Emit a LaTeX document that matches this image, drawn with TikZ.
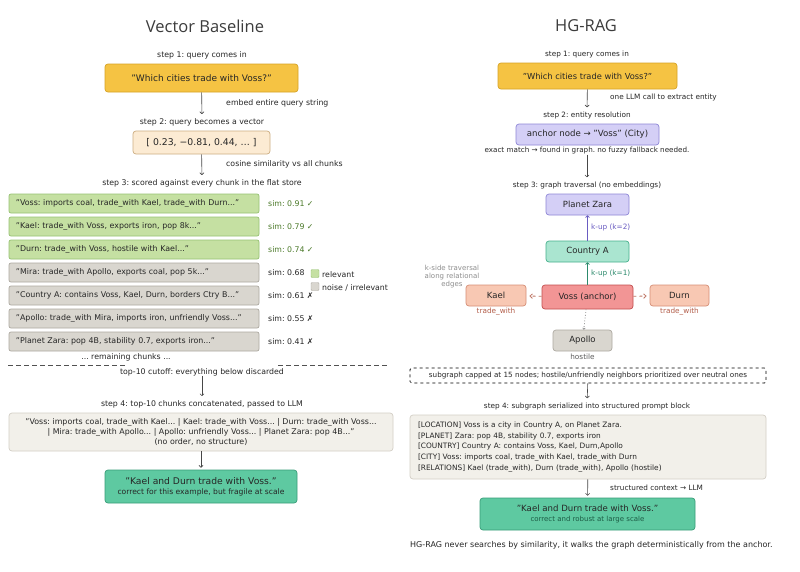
\documentclass[tikz,border=0pt]{standalone}
\usepackage{fontspec}
\setmainfont{DejaVu Sans}
\newfontfamily\headfont{Open Sans}
\usetikzlibrary{arrows.meta}
\frenchspacing
\definecolor{ink}{HTML}{262626}
\definecolor{queryfill}{HTML}{F5C343}
\definecolor{querydraw}{HTML}{D6A326}
\definecolor{vecfill}{HTML}{FCEBD3}
\definecolor{vecdraw}{HTML}{CDAE82}
\definecolor{hitfill}{HTML}{C5E0A2}
\definecolor{hitdraw}{HTML}{97C173}
\definecolor{hittext}{HTML}{4C7A2A}
\definecolor{missfill}{HTML}{D9D6CF}
\definecolor{missdraw}{HTML}{ADA9A1}
\definecolor{blockfill}{HTML}{F2F0EA}
\definecolor{blockdraw}{HTML}{D3CFC6}
\definecolor{answerfill}{HTML}{5EC9A1}
\definecolor{answerdraw}{HTML}{389C78}
\definecolor{answertext}{HTML}{1D5C45}
\definecolor{lilacfill}{HTML}{D4CFF6}
\definecolor{lilacdraw}{HTML}{8E86D6}
\definecolor{lilactext}{HTML}{6A5CC2}
\definecolor{mintfill}{HTML}{AAE5D0}
\definecolor{mintdraw}{HTML}{46B08C}
\definecolor{minttext}{HTML}{2C8A6C}
\definecolor{vossfill}{HTML}{F29595}
\definecolor{vossdraw}{HTML}{C24E4E}
\definecolor{peachfill}{HTML}{F8C8B3}
\definecolor{peachdraw}{HTML}{D68E76}
\definecolor{relcolor}{HTML}{B35E4A}
\definecolor{muted}{HTML}{8E8E8E}
\tikzset{
    every node/.style={text=ink, inner sep=0pt},
    heading/.style={font=\headfont\fontsize{16.5}{20}\selectfont, text=ink!90},
    steplabel/.style={font=\fontsize{7.3}{9}\selectfont},
    sidenote/.style={font=\fontsize{7.3}{9}\selectfont, anchor=west},
    leftstep/.style={font=\fontsize{7.8}{9}\selectfont},
    leftnote/.style={font=\fontsize{7.8}{9}\selectfont, anchor=west},
    box/.style={draw, rounded corners=3pt, line width=0.7pt,
        font=\fontsize{7.3}{9}\selectfont},
    chunk/.style={box, rounded corners=2pt, minimum width=250, minimum height=19,
        text width=236, align=left, font=\fontsize{7.9}{9}\selectfont},
    hit/.style={chunk, fill=hitfill, draw=hitdraw},
    miss/.style={chunk, fill=missfill, draw=missdraw},
    graphnode/.style={box, minimum height=21, font=\fontsize{8.5}{9}\selectfont},
    flow/.style={-{To[length=2.5pt,width=4.5pt]}, line width=0.6pt, draw=ink!85}
}

\begin{document}
\begin{tikzpicture}[x=1pt, y=-1pt]
  \useasboundingbox (0,0) rectangle (800,571);
  \fill[white] (0,0) rectangle (800,571);

  % vector baseline
  \node (titleL) [heading] at (205,26) {Vector Baseline};
  \node (stepL1) [leftstep] at (202,55) {step 1: query comes in};
  \node (queryL) [box, fill=queryfill, draw=querydraw, minimum width=193,
    minimum height=28, font=\fontsize{9}{10}\selectfont] at (201.5,78)
    {"Which cities trade with Voss?"};
  \node (embedL) [leftnote] at (226,103) {embed entire query string};
  \node (stepL2) [leftstep] at (202,122) {step 2: query becomes a vector};
  \node (vecL) [box, fill=vecfill, draw=vecdraw, minimum width=137,
    minimum height=23, font=\fontsize{9.3}{10}\selectfont] at (201.5,142.5)
    {[ 0.23, −0.81, 0.44, … ]};
  \node (cosL) [leftnote] at (226,164) {cosine similarity vs all chunks};
  \node (stepL3) [leftstep] at (202,183)
    {step 3: scored against every chunk in the flat store};

  \node (c1) [hit] at (134,203.5)
    {"Voss: imports coal, trade\_with Kael, trade\_with Durn..."};
  \node (c2) [hit] at (134,226.5) {"Kael: trade\_with Voss, exports iron, pop 8k..."};
  \node (c3) [hit] at (134,249.5) {"Durn: trade\_with Voss, hostile with Kael..."};
  \node (c4) [miss] at (134,272.5)
    {"Mira: trade\_with Apollo, exports coal, pop 5k..."};
  \node (c5) [miss] at (134,295.5)
    {"Country A: contains Voss, Kael, Durn, borders Ctry B..."};
  \node (c6) [miss] at (134,318.5)
    {"Apollo: trade\_with Mira, imports iron, unfriendly Voss..."};
  \node (c7) [miss] at (134,341.5)
    {"Planet Zara: pop 4B, stability 0.7, exports iron..."};

  \node (s1) [leftnote, text=hittext] at (268,203.5) {sim: 0.91 ✓};
  \node (s2) [leftnote, text=hittext] at (268,226.5) {sim: 0.79 ✓};
  \node (s3) [leftnote, text=hittext] at (268,249.5) {sim: 0.74 ✓};
  \node (s4) [leftnote] at (268,272.5) {sim: 0.68};
  \node (s5) [leftnote] at (268,295.5) {sim: 0.61 ✗};
  \node (s6) [leftnote] at (268,318.5) {sim: 0.55 ✗};
  \node (s7) [leftnote] at (268,341.5) {sim: 0.41 ✗};

  \node (keyhit) [draw=hitdraw, fill=hitfill, rounded corners=1pt,
    minimum size=8] at (315,273.5) {};
  \node (keymiss) [draw=missdraw, fill=missfill, rounded corners=1pt,
    minimum size=8] at (315,286.5) {};
  \node (keyhitL) [leftnote] at (322,274.5) {relevant};
  \node (keymissL) [leftnote] at (322,287.5) {noise / irrelevant};

  \node (restL) [leftstep] at (126,357) {... remaining chunks ...};
  \coordinate (cutA) at (8,365);
  \coordinate (cutB) at (125,365);
  \coordinate (cutC) at (278,365);
  \coordinate (cutD) at (387,365);
  \draw [dash pattern=on 5pt off 3pt, line width=0.7pt, draw=ink!80] (cutA) -- (cutB);
  \draw [dash pattern=on 5pt off 3pt, line width=0.7pt, draw=ink!80] (cutC) -- (cutD);
  \node (cutL) [leftstep] at (202,372) {top-10 cutoff: everything below discarded};
  \node (stepL4) [leftstep] at (202,404)
    {step 4: top-10 chunks concatenated, passed to LLM};
  \node (concatL) [box, fill=blockfill, draw=blockdraw, minimum width=384,
    minimum height=38, align=center, font=\fontsize{7.9}{10.3}\selectfont]
    at (201,432)
    {"Voss: imports coal, trade\_with Kael... | Kael: trade\_with Voss... | Durn: trade\_with Voss...\\
     | Mira: trade\_with Apollo... | Apollo: unfriendly Voss... | Planet Zara: pop 4B..."\\
     (no order, no structure)};
  \node (answerL) [box, fill=answerfill, draw=answerdraw, minimum width=192,
    minimum height=33, align=center] at (201,486.5)
    {{\fontsize{9.2}{10}\selectfont "Kael and Durn trade with Voss."}\\[1pt]
     {\fontsize{7.6}{8}\selectfont correct for this example, but fragile at scale}};

  \draw [flow] (queryL) -- (stepL2) [shorten >=4pt];
  \draw [flow] (vecL) -- (stepL3) [shorten >=4pt];
  \draw [flow] (cutL) -- (stepL4) [shorten >=4pt];
  \draw [flow] (concatL) -- (answerL) [shorten >=2pt];

  % hg-rag
  \node (titleR) [heading] at (586,26) {HG-RAG};
  \node (stepR1) [steplabel] at (587,54) {step 1: query comes in};
  \node (queryR) [box, fill=queryfill, draw=querydraw, minimum width=179,
    minimum height=26, font=\fontsize{8.3}{10}\selectfont] at (587.5,76)
    {"Which cities trade with Voss?"};
  \node (extractR) [sidenote] at (610,97) {one LLM call to extract entity};
  \node (stepR2) [steplabel] at (587,115) {step 2: entity resolution};
  \node (anchorR) [box, fill=lilacfill, draw=lilacdraw, minimum width=143,
    minimum height=21, font=\fontsize{8.6}{10}\selectfont] at (587.5,134.5)
    {anchor node → "Voss" (City)};
  \node (matchR) [steplabel, font=\fontsize{7.2}{9}\selectfont] at (587,151)
    {exact match → found in graph. no fuzzy fallback needed.};
  \node (stepR3) [steplabel] at (587,185) {step 3: graph traversal (no embeddings)};

  \node (zara) [graphnode, fill=lilacfill, draw=lilacdraw, minimum width=83]
    at (587.5,204.5) {Planet Zara};
  \node (country) [graphnode, fill=mintfill, draw=mintdraw, minimum width=83]
    at (587.5,251.5) {Country A};
  \node (voss) [graphnode, fill=vossfill, draw=vossdraw, minimum width=91,
    minimum height=24] at (587.5,297) {Voss (anchor)};
  \node (kael) [graphnode, fill=peachfill, draw=peachdraw, minimum width=60]
    at (496,295.5) {Kael};
  \node (durn) [graphnode, fill=peachfill, draw=peachdraw, minimum width=59]
    at (679.5,295.5) {Durn};
  \node (apollo) [graphnode, fill=missfill, draw=missdraw, minimum width=59]
    at (582.5,340.5) {Apollo};

  \node (kup2) [sidenote, text=lilactext] at (591,227) {k-up (k=2)};
  \node (kup1) [sidenote, text=minttext] at (591,273) {k-up (k=1)};
  \node (kaelrel) [steplabel, text=relcolor] at (496,311.5) {trade\_with};
  \node (durnrel) [steplabel, text=relcolor] at (679.5,311.5) {trade\_with};
  \node (apollorel) [steplabel, text=ink!75] at (582.5,356.5) {hostile};
  \node (sidenoteR) [align=center, text=muted, font=\fontsize{7}{8}\selectfont]
    at (452,277) {k-side traversal\\along relational\\edges};

  \draw [-{To[length=2.5pt,width=4.5pt]}, line width=0.8pt, draw=minttext]
    (voss) -- (country);
  \draw [-{To[length=2.5pt,width=4.5pt]}, line width=0.8pt, draw=lilactext]
    (country) -- (zara);
  \draw [-{Straight Barb[length=2.5pt,width=4.5pt]}, dashed, line width=0.8pt,
    draw=relcolor!85] (voss) -- (kael) [shorten >=3pt];
  \draw [-{Straight Barb[length=2.5pt,width=4.5pt]}, dashed, line width=0.8pt,
    draw=relcolor!85] (voss) -- (durn) [shorten >=3pt];
  \draw [-{To[length=2pt,width=3pt]}, dotted, line width=0.8pt, draw=muted]
    (voss) -- (apollo);

  \node (capR) [draw, dashed, rounded corners=1.5pt, line width=0.7pt,
    minimum width=356, minimum height=15, font=\fontsize{7.2}{8}\selectfont]
    at (588,375.5)
    {subgraph capped at 15 nodes; hostile/unfriendly neighbors prioritized over neutral ones};
  \node (stepR4) [steplabel] at (587,406)
    {step 4: subgraph serialized into structured prompt block};
  \node (structR) [box, fill=blockfill, draw=blockdraw, minimum width=356,
    minimum height=64, text width=340, align=left,
    font=\fontsize{7.4}{10.7}\selectfont] at (588,447)
    {{[LOCATION]} Voss is a city in Country A, on Planet Zara.\\
     {[PLANET]} Zara: pop 4B, stability 0.7, exports iron\\
     {[COUNTRY]} Country A: contains Voss, Kael, Durn,Apollo\\
     {[CITY]} Voss: imports coal, trade\_with Kael, trade\_with Durn\\
     {[RELATIONS]} Kael (trade\_with), Durn (trade\_with), Apollo (hostile)};
  \node (contextR) [sidenote] at (610,488) {structured context → LLM};
  \node (answerR) [box, fill=answerfill, draw=answerdraw, minimum width=215,
    minimum height=32, align=center] at (587.5,514)
    {{\fontsize{8.6}{10}\selectfont "Kael and Durn trade with Voss."}\\[1pt]
     {\fontsize{7}{8}\selectfont\color{answertext} correct and robust at large scale}};
  \node (footR) [sidenote, font=\fontsize{8}{9}\selectfont] at (410,545)
    {HG-RAG never searches by similarity, it walks the graph deterministically from the anchor.};

  \draw [flow] (queryR) -- (stepR2) [shorten >=4pt];
  \draw [flow] (matchR) -- (stepR3) [shorten >=4pt];
  \draw [flow] (capR) -- (stepR4) [shorten >=4pt];
  \draw [flow] (structR) -- (answerR) [shorten >=2pt];
\end{tikzpicture}
\end{document}
